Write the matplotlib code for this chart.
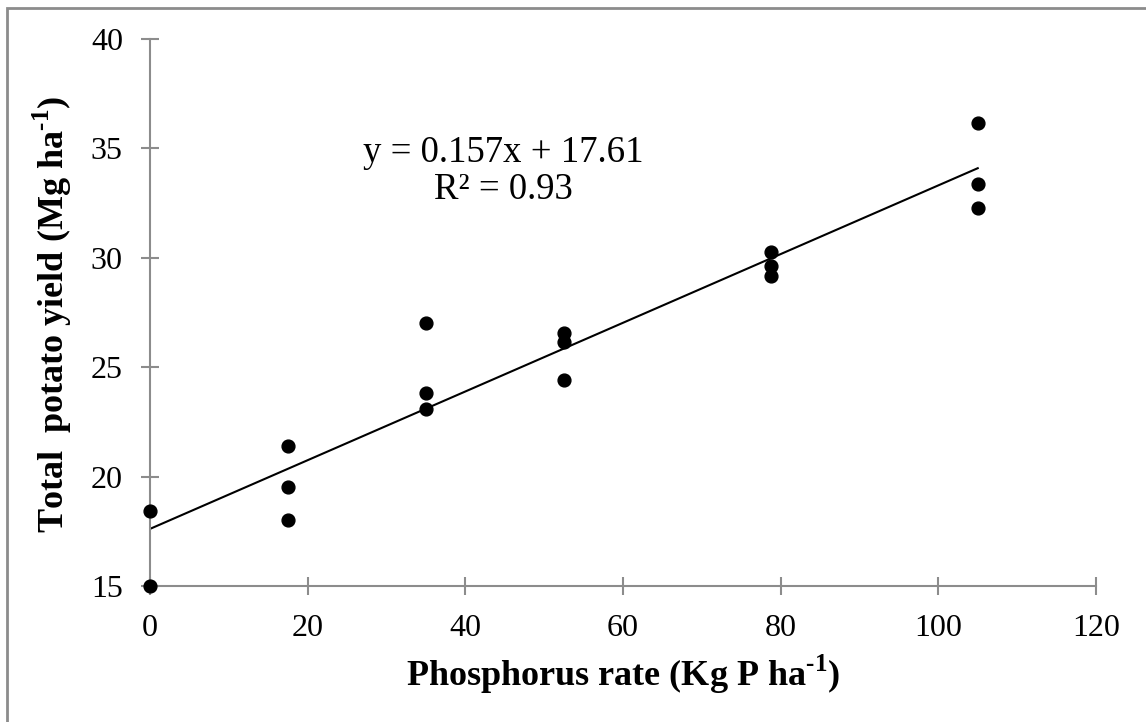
import numpy as np
import matplotlib.pyplot as plt
from matplotlib.patches import Rectangle

# P rate (kg P/ha) and total yield (Mg/ha)
rate = [0, 0, 17.5, 17.5, 17.5, 35, 35, 35, 52.5, 52.5, 52.5,
        78.75, 78.75, 78.75, 105, 105, 105]
yield_t = [18.45, 15.0, 21.4, 19.52, 18.0, 27.0, 23.82, 23.1, 26.55, 26.15, 24.4,
           30.28, 29.64, 29.18, 36.15, 33.39, 32.29]
slope, intercept = 0.157, 17.61
fit_x = [0, 105]
xticks = [0, 20, 40, 60, 80, 100, 120]
yticks = [15, 20, 25, 30, 35, 40]

plt.rcParams['font.family'] = ['Liberation Serif', 'DejaVu Serif']
plt.rcParams['mathtext.fontset'] = 'custom'
plt.rcParams['mathtext.rm'] = 'Liberation Serif'
plt.rcParams['mathtext.bf'] = 'Liberation Serif:bold'

grey = '#8c8c8c'
fig = plt.figure(figsize=(11.46, 7.22), dpi=100)
ax = fig.add_axes([150 / 1146, 1 - 586 / 722, 946 / 1146, 547 / 722])

fx = np.array(fit_x)
ax.plot(fx, slope * fx + intercept, color='black', lw=1.5, zorder=2)
ax.scatter(rate, yield_t, s=85, color='black', zorder=3, clip_on=False)

ax.set_xlim(0, 120)
ax.set_ylim(15, 40)
ax.set_xticks(xticks)
ax.set_yticks(yticks)
for s in ['top', 'right']:
    ax.spines[s].set_visible(False)
for s in ['left', 'bottom']:
    ax.spines[s].set_color(grey)
    ax.spines[s].set_linewidth(1.5)
ax.tick_params(direction='inout', length=13, width=1.5, color=grey,
               labelsize=23)
ax.tick_params(axis='x', pad=14)
ax.tick_params(axis='y', pad=13)

# superscripts with a real hyphen, as in the original
ax.set_xlabel('Phosphorus rate (Kg P ha$^{\\mathbf{\u20101}}$)',
              fontsize=26, fontweight='bold')
ax.set_ylabel('Total  potato yield (Mg ha$^{\\mathbf{\u20101}}$)', fontsize=26,
              fontweight='bold')
ax.xaxis.set_label_coords(0.5, -0.122)
ax.yaxis.set_label_coords(-0.1036, 0.497)
ax.yaxis.label.set_va('center')

ax.text(44.8, 33.95, 'y = 0.157x + 17.61\nR² = 0.93', fontsize=26.5,
        ha='center', va='center', linespacing=1.12)

fig.patches.append(Rectangle((7 / 1146, -0.05), 1.2, 1 - 7.5 / 722 + 0.05,
                             transform=fig.transFigure, fill=False,
                             edgecolor=grey, lw=2))

fig.savefig('out.png', dpi=100)
